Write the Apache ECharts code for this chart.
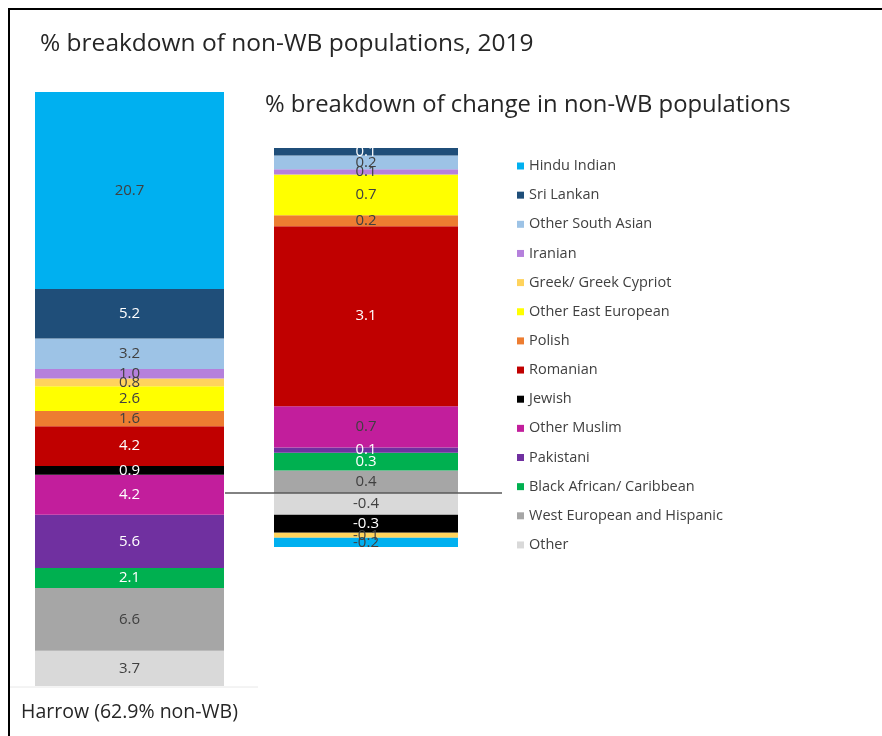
<!DOCTYPE html>
<html>
<head>
<meta charset="utf-8">
<script src="https://cdn.jsdelivr.net/npm/echarts@6/dist/echarts.min.js"></script>
<style>
html,body{margin:0;padding:0;background:#fff;}
#chart{width:882px;height:736px;}
</style>
</head>
<body>
<div id="chart"></div>
<script>
const categories = ['Hindu Indian','Sri Lankan','Other South Asian','Iranian','Greek/ Greek Cypriot','Other East European','Polish','Romanian','Jewish','Other Muslim','Pakistani','Black African/ Caribbean','West European and Hispanic','Other'];
const values2019 = [20.7, 5.2, 3.2, 1.0, 0.8, 2.6, 1.6, 4.2, 0.9, 4.2, 5.6, 2.1, 6.6, 3.7];
const changeValues = [-0.16, 0.146, 0.24, 0.09, -0.09, 0.71, 0.19, 3.13, -0.31, 0.72, 0.09, 0.31, 0.39, -0.38];
const barLabel2019 = ['Harrow (62.9% non-WB)'];
const barLabelChange = ['Change'];
const colors = ['#00B0F0','#1F4E79','#9DC3E6','#B580DC','#FFD35C','#FFFF00','#ED7D31','#C00000','#000000','#C21E9C','#7030A0','#00B050','#A6A6A6','#D9D9D9'];
const labelColorsLeft = ['#404040','#FFFFFF','#404040','#404040','#404040','#404040','#404040','#FFFFFF','#FFFFFF','#FFFFFF','#FFFFFF','#FFFFFF','#404040','#404040'];
const labelColorsRight = ['#404040','#FFFFFF','#404040','#404040','#404040','#404040','#404040','#FFFFFF','#FFFFFF','#404040','#FFFFFF','#FFFFFF','#404040','#404040'];

const FONT = '"Open Sans", "Noto Sans", sans-serif';
const total2019 = values2019.reduce((a, b) => a + b, 0);

const series = [];
// stack from bottom: last category first
for (let i = categories.length - 1; i >= 0; i--) {
  series.push({
    name: categories[i], type: 'bar', stack: 'left', xAxisIndex: 0, yAxisIndex: 0,
    barWidth: '100%', data: [values2019[i]],
    itemStyle: { color: colors[i] },
    label: { show: true, position: 'inside', color: labelColorsLeft[i], fontFamily: FONT, fontSize: 15,
      formatter: p => p.value.toFixed(1) }
  });
  series.push({
    name: categories[i], type: 'bar', stack: 'right', xAxisIndex: 1, yAxisIndex: 1,
    barWidth: '100%', data: [changeValues[i]],
    itemStyle: { color: colors[i] },
    label: { show: true, position: 'inside', color: labelColorsRight[i], fontFamily: FONT, fontSize: 15,
      formatter: p => p.value.toFixed(1) }
  });
}

const chart = echarts.init(document.getElementById('chart'));
chart.setOption({
  animation: false,
  backgroundColor: '#ffffff',
  color: colors,
  title: [
    { text: '% breakdown of non-WB populations, 2019', left: 35, top: 27,
      textStyle: { fontFamily: FONT, fontSize: 24.5, fontWeight: 'normal', color: '#262626' } },
    { text: '% breakdown of change in non-WB populations', left: 260, top: 88,
      textStyle: { fontFamily: FONT, fontSize: 23.8, fontWeight: 'normal', color: '#262626' } }
  ],
  legend: {
    orient: 'vertical', left: 517, top: 158, padding: 0,
    data: categories,
    icon: 'rect', itemWidth: 7, itemHeight: 7, itemGap: 13.15,
    textStyle: { fontFamily: FONT, fontSize: 14.5, color: '#404040', lineHeight: 16 },
    selectedMode: false
  },
  grid: [
    { left: 35, width: 189, top: 92, height: 594 },
    { left: 274, width: 184, top: 148, height: 402.5 }
  ],
  xAxis: [
    { type: 'category', gridIndex: 0, data: barLabel2019,
      axisLine: { show: false }, axisTick: { show: false },
      axisLabel: { fontFamily: FONT, fontSize: 19.5, color: '#262626', margin: 16 } },
    { type: 'category', gridIndex: 1, data: barLabelChange, show: false }
  ],
  yAxis: [
    { type: 'value', gridIndex: 0, min: 0, max: total2019, show: false, splitLine: { show: false } },
    { type: 'value', gridIndex: 1, min: -1, max: 6, show: false, splitLine: { show: false } }
  ],
  series: series
});

const zeroY = chart.convertToPixel({ yAxisIndex: 1 }, 0);
const baseY = chart.convertToPixel({ yAxisIndex: 0 }, 0);
chart.setOption({
  graphic: [
    { type: 'line', shape: { x1: 10, y1: 9, x2: 882, y2: 9 }, style: { stroke: '#000', lineWidth: 2 } },
    { type: 'line', shape: { x1: 9, y1: 8, x2: 9, y2: 736 }, style: { stroke: '#000', lineWidth: 2 } },
    { type: 'line', shape: { x1: 10, y1: baseY + 1, x2: 258, y2: baseY + 1 }, style: { stroke: '#E8E8E8', lineWidth: 1 } },
    { type: 'line', z: 100, shape: { x1: 225, y1: zeroY, x2: 502, y2: zeroY }, style: { stroke: '#595959', lineWidth: 1.5 } }
  ]
});
</script>
</body>
</html>
